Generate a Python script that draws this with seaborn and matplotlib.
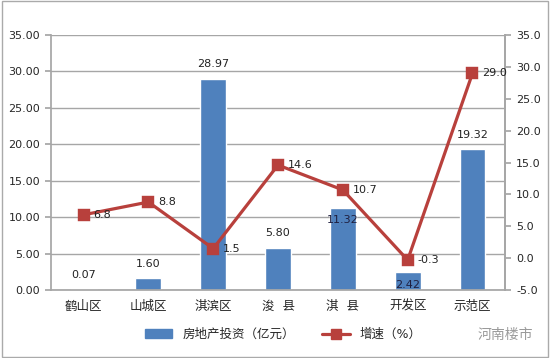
import matplotlib
matplotlib.use("Agg")
import matplotlib.pyplot as plt
import seaborn as sns
import numpy as np
import pandas as pd
from matplotlib.patches import Rectangle
from matplotlib.lines import Line2D

categories = ["鹤山区", "山城区", "淇滨区", "浚  县", "淇  县", "开发区", "示范区"]
investment = [0.07, 1.60, 28.97, 5.80, 11.32, 2.42, 19.32]
growth = [6.8, 8.8, 1.5, 14.6, 10.7, -0.3, 29.0]
left_ticks = [0, 5, 10, 15, 20, 25, 30, 35]
right_ticks = [-5, 0, 5, 10, 15, 20, 25, 30, 35]
bar_name = "房地产投资（亿元）"
line_name = "增速（%）"

sns.set_theme(style="white")
plt.rcParams['font.family'] = ['DejaVu Sans', 'Noto Sans CJK SC']

BAR = "#4F81BD"
LINE = "#B8403C"
GRID = "#A6A6A6"

fig = plt.figure(figsize=(5.5, 3.58), dpi=100)
ax = fig.add_axes([0.093, 0.19, 0.825, 0.712])
df = pd.DataFrame({"cat": categories, "inv": investment, "g": growth})
sns.barplot(data=df, x="cat", y="inv", ax=ax, color=BAR, width=0.4, saturation=1)
ax.set_ylim(0, 35)
ax.set_yticks(left_ticks)
ax.set_yticklabels([f"{t:.2f}" for t in left_ticks], fontsize=8)
ax.yaxis.grid(True, color=GRID, linewidth=1)
ax.set_axisbelow(True)
ax.set_xlabel("")
ax.set_ylabel("")
ax.set_xlim(-0.5, len(categories) - 0.5)
ax.tick_params(axis="x", which="major", length=0, labelsize=9, pad=7)
ax.set_xticks(np.arange(-0.5, len(categories)), minor=True)
ax.tick_params(axis="x", which="minor", length=4, color=GRID, direction="out")
ax.tick_params(axis="y", length=4, color=GRID, direction="out", left=True, pad=4)
for s in ["left", "bottom", "right"]:
    ax.spines[s].set_color(GRID)
ax.spines["top"].set_visible(False)

inside = {4, 5}
for i, v in enumerate(investment):
    if i in inside:
        ax.annotate(f"{v:.2f}", (i, v), xytext=(0, -9), textcoords="offset points",
                    ha="center", va="center", fontsize=8, color="#1F1F3F")
    else:
        ax.annotate(f"{v:.2f}", (i, v), xytext=(0, 7), textcoords="offset points",
                    ha="center", va="bottom", fontsize=8, color="#222222")

ax2 = ax.twinx()
sns.pointplot(x=categories, y=growth, ax=ax2, color=LINE, markers="s",
              markersize=7, linewidth=2.3)
ax2.set_ylim(-5, 35)
ax2.set_yticks(right_ticks)
ax2.set_yticklabels([f"{t:.1f}" for t in right_ticks], fontsize=8)
ax2.set_xlim(-0.5, len(categories) - 0.5)
ax2.set_ylabel("")
ax2.tick_params(axis="y", length=4, color=GRID, direction="out", right=True, pad=4)
for s in ["top", "left", "bottom"]:
    ax2.spines[s].set_visible(False)
ax2.spines["right"].set_color(GRID)
for i, v in enumerate(growth):
    ax2.annotate(f"{v:.1f}", (i, v), xytext=(7, 0), textcoords="offset points",
                 ha="left", va="center", fontsize=8, color="#222222")

handles = [Rectangle((0, 0), 1, 1, color=BAR),
           Line2D([0], [0], color=LINE, marker="s", markersize=7, linewidth=2.3)]
fig.legend(handles, [bar_name, line_name], loc="center", bbox_to_anchor=(0.515, 0.065),
           ncol=2, frameon=False, fontsize=9, handlelength=2.2, columnspacing=2.2)
fig.text(0.97, 0.065, "河南楼市", ha="right", va="center", fontsize=10,
         color="#9A9A9A", family=["Noto Sans CJK SC"])
fig.patches.append(Rectangle((0.003, 0.004), 0.994, 0.992, transform=fig.transFigure,
                             fill=False, edgecolor="#AAAAAA", linewidth=1))
fig.savefig("out.png", dpi=100)
